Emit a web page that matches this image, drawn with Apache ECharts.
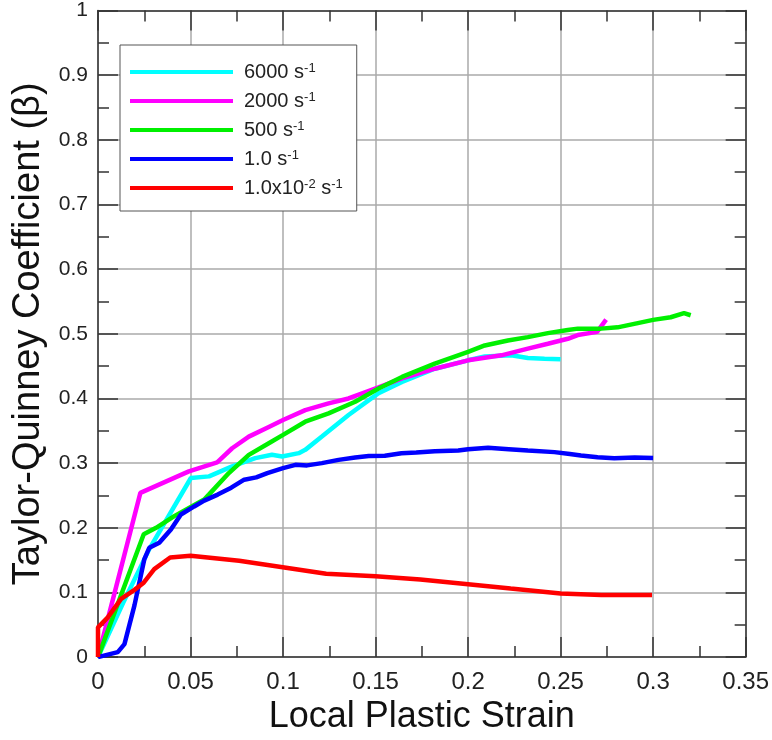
<!DOCTYPE html>
<html>
<head>
<meta charset="utf-8">
<script src="https://cdn.jsdelivr.net/npm/echarts@6/dist/echarts.min.js"></script>
<style>
html,body{margin:0;padding:0;background:#fff;}
#chart{width:772px;height:740px;}
</style>
</head>
<body>
<div id="chart"></div>
<script>
// Series names (legend)
const seriesNames = ['6000 s-1', '2000 s-1', '500 s-1', '1.0 s-1', '1.0x10-2 s-1'];
const seriesColors = ['#00FFFF', '#FF00FF', '#00F000', '#0000FF', '#FF0000'];

// Tick values
const xTicks = [0, 0.05, 0.1, 0.15, 0.2, 0.25, 0.3, 0.35];
const yTicks = [0, 0.1, 0.2, 0.3, 0.4, 0.5, 0.6, 0.7, 0.8, 0.9, 1];

// [local plastic strain, Taylor-Quinney coefficient]
const rate6000 = [[0,0],[0.0136,0.084],[0.0277,0.167],[0.0502,0.277],[0.06,0.2795],[0.0725,0.295],[0.085,0.3077],[0.094,0.313],[0.0995,0.3103],[0.1085,0.3154],[0.112,0.3205],[0.121,0.341],[0.1354,0.3744],[0.1464,0.3974],[0.1516,0.408],[0.1643,0.4256],[0.182,0.446],[0.2,0.459],[0.209,0.465],[0.2233,0.4667],[0.2323,0.4626],[0.2413,0.4615],[0.25,0.4605]];
const rate2000 = [[0,0],[0.0229,0.254],[0.0491,0.2872],[0.0644,0.301],[0.0725,0.323],[0.0815,0.341],[0.0923,0.356],[0.1,0.3667],[0.112,0.382],[0.1246,0.3923],[0.1354,0.4],[0.1516,0.417],[0.1643,0.431],[0.182,0.446],[0.2,0.459],[0.218,0.4667],[0.2323,0.477],[0.2431,0.4846],[0.2539,0.4923],[0.2593,0.498],[0.2697,0.503],[0.2746,0.522]];
const rate500 = [[0,0],[0.0247,0.19],[0.0314,0.2],[0.0412,0.218],[0.0574,0.2437],[0.0599,0.2513],[0.0707,0.2846],[0.0815,0.3128],[0.0923,0.3308],[0.1,0.3436],[0.112,0.364],[0.1246,0.377],[0.139,0.395],[0.1516,0.4154],[0.1643,0.4333],[0.182,0.454],[0.2,0.472],[0.209,0.482],[0.2215,0.4897],[0.2323,0.4949],[0.2431,0.501],[0.2539,0.506],[0.2593,0.508],[0.2719,0.508],[0.2808,0.51],[0.2898,0.5154],[0.3,0.5215],[0.3095,0.5256],[0.3167,0.532],[0.3203,0.5287]];
const rate1 = [[0,0],[0.0107,0.0077],[0.0143,0.02],[0.0197,0.08],[0.025,0.151],[0.0277,0.169],[0.0331,0.177],[0.0394,0.1975],[0.0448,0.2206],[0.052,0.233],[0.0574,0.242],[0.0647,0.2513],[0.072,0.262],[0.079,0.2744],[0.0855,0.278],[0.0915,0.2846],[0.1,0.2923],[0.1067,0.2974],[0.113,0.2965],[0.121,0.3],[0.13,0.305],[0.139,0.3087],[0.1463,0.311],[0.155,0.3115],[0.164,0.3154],[0.172,0.3165],[0.182,0.3185],[0.1947,0.3195],[0.2,0.3215],[0.2108,0.3236],[0.222,0.3215],[0.2323,0.3195],[0.2467,0.317],[0.255,0.314],[0.261,0.3118],[0.27,0.309],[0.279,0.3077],[0.29,0.3085],[0.3,0.308]];
const rate001 = [[0,0],[0,0.046],[0.0053,0.0615],[0.0125,0.09],[0.0197,0.104],[0.0247,0.115],[0.0304,0.136],[0.039,0.154],[0.05,0.1566],[0.0763,0.149],[0.0998,0.139],[0.1233,0.1288],[0.15,0.125],[0.1742,0.12],[0.2,0.1126],[0.223,0.106],[0.25,0.0985],[0.272,0.096],[0.2994,0.096]];

const allData = [rate6000, rate2000, rate500, rate1, rate001];

const chart = echarts.init(document.getElementById('chart'), null, {renderer: 'canvas'});

function legendFmt(name) {
  if (name === '1.0x10-2 s-1') return '{gap|}{nm|1.0x10}{sp|-2}{nm| s}{sp|-1}';
  const m = name.match(/^(.*) s-1$/);
  return '{gap|}{nm|' + m[1] + ' s}{sp|-1}';
}

const FONT = 'Liberation Sans, Arial, sans-serif';
const axisLineStyle = {color: '#333', width: 1.5};
const baseX = {
  type: 'value', min: xTicks[0], max: xTicks[xTicks.length - 1], interval: 0.05,
  axisLine: {show: true, onZero: false, lineStyle: axisLineStyle},
  axisTick: {show: true, inside: true, length: 20, lineStyle: {color: '#333', width: 1.5}},
  minorTick: {show: true, splitNumber: 2, length: 11, lineStyle: {color: '#333', width: 1.5}},
  splitLine: {show: false}
};
const baseY = {
  type: 'value', min: yTicks[0], max: yTicks[yTicks.length - 1], interval: 0.1,
  axisLine: {show: true, onZero: false, lineStyle: axisLineStyle},
  axisTick: {show: true, inside: true, length: 20, lineStyle: {color: '#333', width: 1.5}},
  minorTick: {show: true, splitNumber: 2, length: 11, lineStyle: {color: '#333', width: 1.5}},
  splitLine: {show: false}
};

const option = {
  backgroundColor: '#fff',
  animation: false,
  grid: {left: 98, right: 25, top: 10, bottom: 78, containLabel: false},
  legend: {
    orient: 'vertical', left: 120, top: 45,
    backgroundColor: '#fff', borderColor: '#555', borderWidth: 1,
    padding: [17, 14, 13, 10],
    itemGap: 9, itemWidth: 103, itemHeight: 4, icon: 'rect',
    data: seriesNames,
    formatter: legendFmt,
    textStyle: {
      fontSize: 20, color: '#222',
      rich: {
        gap: {width: 6, fontSize: 20},
        nm: {fontSize: 20, fontFamily: FONT, color: '#222'},
        sp: {fontSize: 13, fontFamily: FONT, color: '#222', verticalAlign: 'top'}
      }
    }
  },
  xAxis: [
    Object.assign({}, baseX, {
      position: 'bottom',
      name: 'Local Plastic Strain', nameLocation: 'middle', nameGap: 38,
      nameTextStyle: {fontFamily: FONT, fontSize: 36, color: '#111', verticalAlign: 'top'},
      axisLabel: {show: true, margin: 13, fontFamily: FONT, fontSize: 24, color: '#222',
        formatter: v => String(+v.toFixed(2))},
      splitLine: {show: true, lineStyle: {color: '#aaa', width: 1.5}}
    }),
    Object.assign({}, baseX, {position: 'top', axisLabel: {show: false}})
  ],
  yAxis: [
    Object.assign({}, baseY, {
      position: 'left',
      name: 'Taylor-Quinney Coefficient (β)', nameLocation: 'middle', nameGap: 49,
      nameTextStyle: {fontFamily: FONT, fontSize: 38, color: '#111'},
      axisLabel: {show: true, margin: 10, fontFamily: FONT, fontSize: 21, color: '#222',
        formatter: v => String(+v.toFixed(1))},
      splitLine: {show: true, lineStyle: {color: '#aaa', width: 1.5}}
    }),
    Object.assign({}, baseY, {position: 'right', axisLabel: {show: false}})
  ],
  series: seriesNames.map((n, i) => ({
    name: n, type: 'line', xAxisIndex: 0, yAxisIndex: 0,
    data: allData[i], showSymbol: false, symbol: 'none', smooth: false,
    lineStyle: {color: seriesColors[i], width: 4.5},
    itemStyle: {color: seriesColors[i]},
    z: 2 + i
  }))
};
chart.setOption(option);
</script>
</body>
</html>
